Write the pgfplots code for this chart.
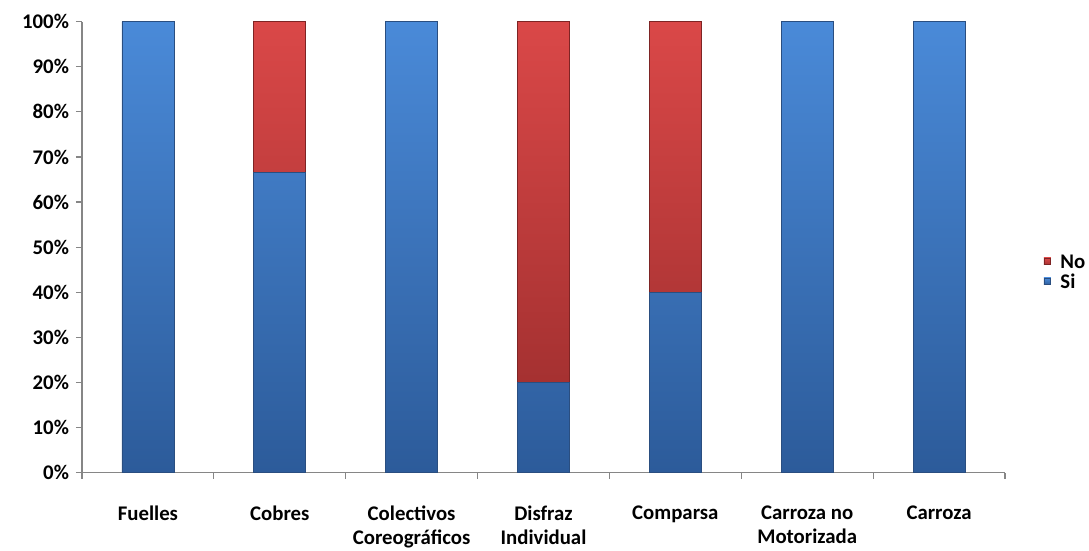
\documentclass[border=0pt]{standalone}
\usepackage{fontspec}
\setmainfont{Carlito}
\usepackage{pgfplots}
\usepackage{pgfplotstable}
\pgfplotsset{compat=1.18}

\definecolor{axisgray}{HTML}{868686}
\definecolor{siTop}{HTML}{4A8AD8}
\definecolor{siBot}{HTML}{2C5B9A}
\definecolor{siEdge}{HTML}{2A4E80}
\definecolor{noTop}{HTML}{DA4848}
\definecolor{noBot}{HTML}{A53131}
\definecolor{noEdge}{HTML}{7E2424}

% Share of entries per category (percent)
\pgfplotstableread{
x si    no
0 100   0
1 66.67 33.33
2 100   0
3 20    80
4 40    60
5 100   0
6 100   0
}\datatable

\newcommand{\lblfont}{\fontsize{10.4}{12.2}\selectfont\bfseries}

\begin{document}
\begin{tikzpicture}
\useasboundingbox (0,0) rectangle (544.5pt,275.5pt);
\begin{axis}[
  at={(41pt,39.15pt)}, anchor=south west,
  scale only axis, width=461.5pt, height=225.5pt,
  ybar stacked, bar width=26pt,
  xmin=-0.5, xmax=6.5, ymin=0, ymax=100,
  axis lines=left,
  axis line style={-, draw=axisgray, line width=0.6pt},
  tick align=outside,
  major tick length=3pt, minor tick length=3pt,
  tick style={draw=axisgray, line width=0.6pt},
  xtick={0,...,6},
  xticklabels={Fuelles, Cobres, {Colectivos\\Coreográficos}, {Disfraz\\Individual}, Comparsa, {Carroza no\\Motorizada}, Carroza},
  major x tick style={draw=none},
  minor xtick={-0.5,0.5,...,6.5},
  x tick label style={font=\lblfont, align=center, anchor=north, yshift=-10pt},
  ytick={0,10,...,100},
  yticklabel={\pgfmathprintnumber{\tick}\%},
  y tick label style={font=\lblfont},
  /pgf/number format/assume math mode=true,
  reverse legend,
  legend style={draw=none, fill=none, at={(1.035,0.446)}, anchor=west,
    font=\lblfont, row sep=0pt,
    nodes={inner sep=1.5pt, text height=7pt, text depth=0pt},
    cells={anchor=west},
    /tikz/every odd column/.style={column sep=3.2pt}},
  legend image code/.code={\fill[#1] (0pt,-1.6pt) rectangle (3.4pt,1.8pt);},
]
\addplot[draw=siEdge, line width=0.3pt, top color=siTop, bottom color=siBot] table[x=x, y=si] {\datatable};
\addlegendentry{Si}
\addplot[draw=noEdge, line width=0.3pt, top color=noTop, bottom color=noBot] table[x=x, y=no] {\datatable};
\addlegendentry{No}
\end{axis}
\end{tikzpicture}
\end{document}
